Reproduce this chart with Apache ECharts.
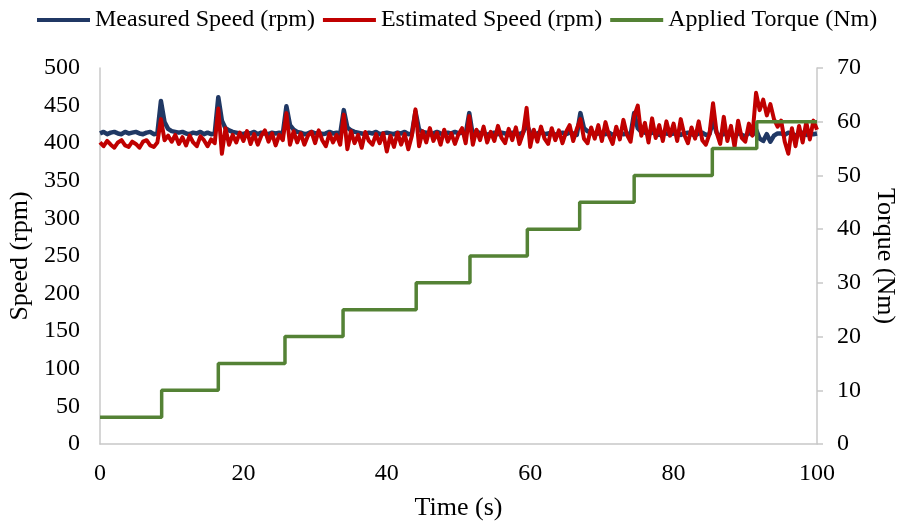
<!DOCTYPE html>
<html>
	<head>
		<meta charset="utf-8">
		<title></title>
		<style>
			body{margin:0;}
			#main{
				width: 902px;
				height: 526px;
			}
		</style>
	</head>
	<body>
		<div id="main"></div>
		<script src="https://cdn.jsdelivr.net/npm/echarts@6/dist/echarts.min.js"></script>
		<script>
			// speed samples, one every 0.5 s from 0 to 100 s
			var sampleStep = 0.5;
			var measuredSpeed = [
				413,415,412,414,415,413,412,415,413,414,
				415,413,412,414,415,412,413,456,428,419,
				416,415,414,415,413,412,414,413,415,412,
				414,412,413,461,430,420,417,415,414,413,
				412,414,413,415,412,414,413,412,414,413,
				414,413,449,424,418,415,414,412,413,415,
				413,414,412,413,415,413,414,412,444,421,
				417,415,414,413,412,414,413,415,412,413,
				414,413,412,414,413,415,412,413,442,418,
				415,414,412,413,415,413,412,414,413,415,
				413,414,412,440,410,416,413,414,411,413,
				414,412,414,413,411,414,413,412,414,425,
				414,412,413,415,412,413,414,411,413,414,
				412,414,413,411,440,420,416,414,412,413,
				414,412,414,411,413,414,412,413,411,440,
				420,415,414,412,414,413,411,414,413,412,
				413,414,411,413,414,412,410,413,414,411,
				412,430,414,408,414,410,413,407,414,411,
				409,414,411,418,406,403,412,402,410,413,
				413,411,414,413,410,413,414,411,413,412,
				413
			];
			var estimatedSpeed = [
				401,396,403,398,394,401,404,397,395,402,
				399,394,402,404,397,395,401,432,404,410,
				402,411,399,408,397,410,401,396,409,404,
				396,405,400,446,386,420,398,411,401,414,
				403,416,399,412,398,410,417,402,413,397,
				411,404,440,398,416,401,413,398,410,415,
				400,417,404,396,413,401,411,398,438,392,
				416,400,411,394,415,403,398,412,400,413,
				389,410,395,414,398,412,392,410,445,396,
				416,401,420,403,414,398,418,402,413,399,
				412,420,400,436,398,418,404,422,401,415,
				403,423,407,400,419,404,421,399,413,447,
				395,418,402,422,406,399,420,404,417,400,
				415,424,403,419,432,406,400,421,406,424,
				403,428,410,399,422,405,431,411,402,436,
				450,410,427,401,433,407,424,403,429,410,
				426,403,432,411,400,421,406,429,404,398,
				412,453,414,399,435,403,423,395,430,407,
				402,426,410,467,444,458,437,452,432,422,
				430,402,386,420,396,423,401,428,405,430,
				418
			];
			// torque steps: time of each change (s) and level (Nm)
			var torqueTimes = [0, 8.6, 16.5, 25.8, 33.9, 44.1, 51.6, 59.6, 66.9, 74.5, 85.4, 91.6, 100];
			var torqueLevels = [5, 10, 15, 20, 25, 30, 35, 40, 45, 50, 55, 60, 60];

			var measuredData = measuredSpeed.map((v, i) => [i * sampleStep, v]);
			var estimatedData = estimatedSpeed.map((v, i) => [i * sampleStep, v]);
			var torqueData = torqueTimes.map((t, i) => [t, torqueLevels[i]]);

			var font = 'Liberation Serif';
			var axisGray = '#c8c8c8';

			var mychart = echarts.init(document.getElementById("main"));
			var option = {
				animation: false,
				textStyle: {fontFamily: font},
				grid: {left: 100, right: 85, top: 68, bottom: 82, outerBoundsMode: 'none'},
				legend: {
					top: 3,
					left: 32,
					icon: 'rect',
					itemWidth: 53,
					itemHeight: 4,
					itemGap: 8,
					textStyle: {fontFamily: font, fontSize: 24, color: '#000'},
					data: ['Measured Speed (rpm)', 'Estimated Speed (rpm)', 'Applied Torque (Nm)']
				},
				xAxis: {
					type: 'value',
					min: 0, max: 100, interval: 20,
					name: 'Time (s)',
					nameLocation: 'middle',
					nameGap: 51,
					nameTextStyle: {fontFamily: font, fontSize: 26, color: '#000'},
					axisLine: {lineStyle: {color: axisGray, width: 1.5}},
					axisTick: {show: false},
					splitLine: {show: false},
					axisLabel: {fontFamily: font, fontSize: 24, color: '#000', margin: 18}
				},
				yAxis: [
					{
						type: 'value',
						min: 0, max: 500, interval: 50,
						name: 'Speed (rpm)',
						nameLocation: 'middle',
						nameGap: 64,
						nameTextStyle: {fontFamily: font, fontSize: 26, color: '#000'},
						axisLine: {show: true, lineStyle: {color: axisGray, width: 1.5}},
						axisTick: {show: false},
						splitLine: {show: false},
						axisLabel: {fontFamily: font, fontSize: 24, color: '#000', margin: 20}
					},
					{
						type: 'value',
						min: 0, max: 70, interval: 10,
						name: 'Torque (Nm)',
						nameLocation: 'middle',
						nameGap: 55,
						nameRotate: -90,
						nameTextStyle: {fontFamily: font, fontSize: 26, color: '#000'},
						axisLine: {show: true, lineStyle: {color: axisGray, width: 1.5}},
						axisTick: {show: true, length: 6, lineStyle: {color: axisGray, width: 1.5}},
						splitLine: {show: false},
						axisLabel: {fontFamily: font, fontSize: 24, color: '#000', margin: 20}
					}
				],
				series: [
					{
						name: 'Measured Speed (rpm)',
						type: 'line',
						data: measuredData,
						showSymbol: false,
						color: '#203864',
						lineStyle: {width: 4.5, join: 'round'}
					},
					{
						name: 'Estimated Speed (rpm)',
						type: 'line',
						data: estimatedData,
						showSymbol: false,
						color: '#c00000',
						lineStyle: {width: 4, join: 'round'}
					},
					{
						name: 'Applied Torque (Nm)',
						type: 'line',
						yAxisIndex: 1,
						step: 'end',
						data: torqueData,
						showSymbol: false,
						color: '#548235',
						lineStyle: {width: 3.5}
					}
				]
			};
			mychart.setOption(option);
		</script>
	</body>
</html>
